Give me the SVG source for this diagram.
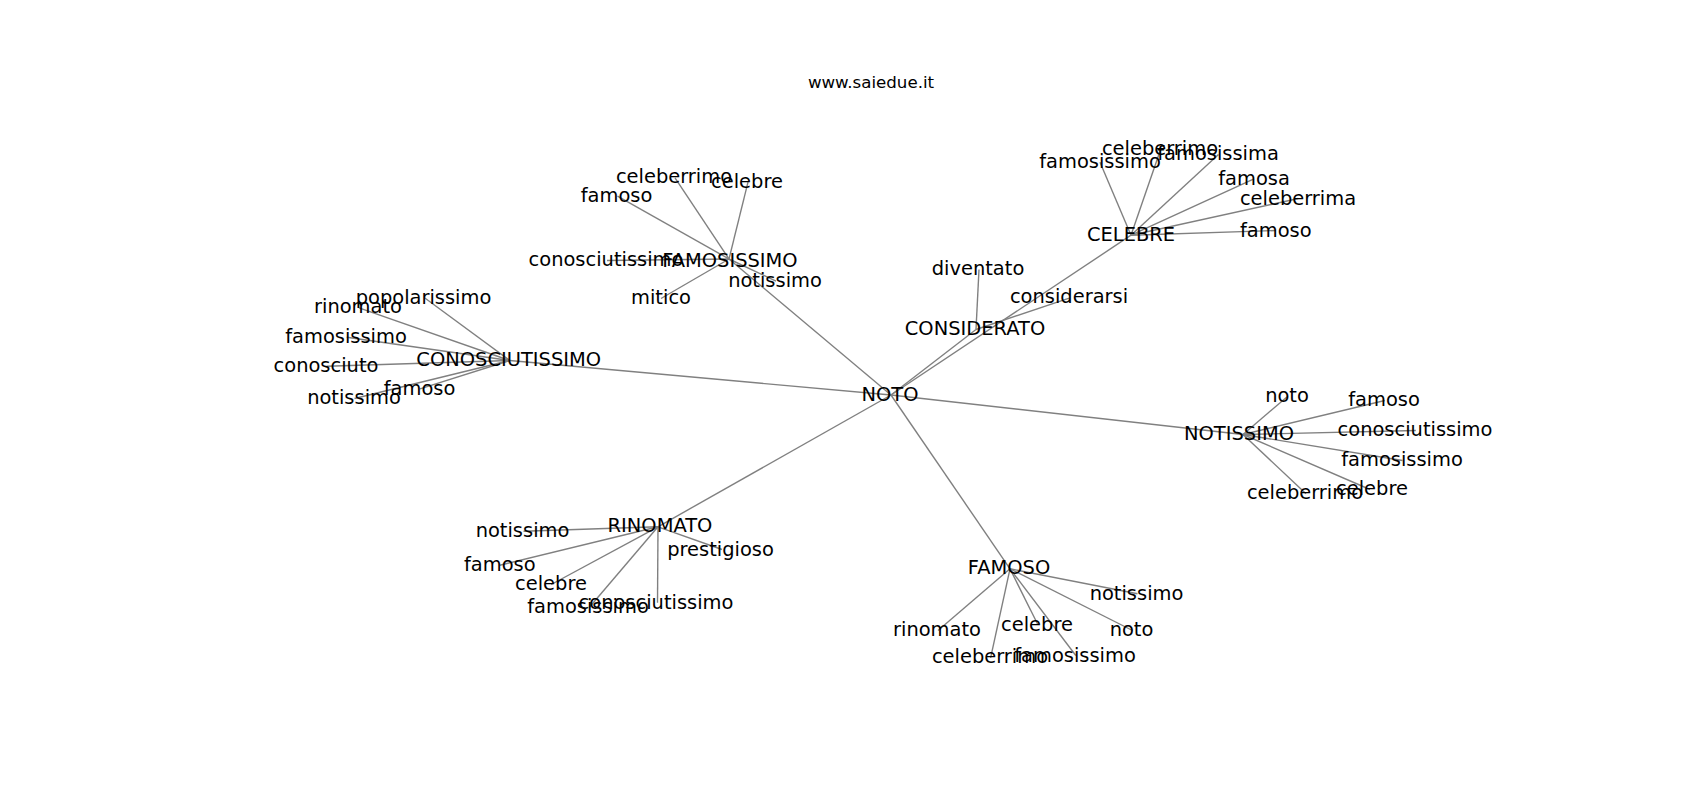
<svg xmlns="http://www.w3.org/2000/svg" width="1700" height="800" viewBox="0 0 1700 800">
<style>
.e{stroke:#808080;stroke-width:1.39;fill:none}
text{font-family:"DejaVu Sans","Liberation Sans",sans-serif;font-size:19.44px;fill:#000;text-anchor:middle}
.t{font-size:16.67px}
</style>
<rect width="1700" height="800" fill="#fff"/>
<text class="t" x="871" y="88">www.saiedue.it</text>
<g id="edges">
<line class="e" x1="891" y1="395" x2="976" y2="329.5"/>
<line class="e" x1="891" y1="395" x2="1131" y2="235.2"/>
<line class="e" x1="891" y1="395" x2="729" y2="259"/>
<line class="e" x1="891" y1="395" x2="509.7" y2="360.5"/>
<line class="e" x1="891" y1="395" x2="1243" y2="434.5"/>
<line class="e" x1="891" y1="395" x2="658" y2="526.8"/>
<line class="e" x1="891" y1="395" x2="1010" y2="568.8"/>
<line class="e" x1="976" y1="329.5" x2="979" y2="269.5"/>
<line class="e" x1="976" y1="329.5" x2="1070" y2="297.8"/>
<line class="e" x1="1131" y1="235.2" x2="1100" y2="162.2"/>
<line class="e" x1="1131" y1="235.2" x2="1160.6" y2="149.5"/>
<line class="e" x1="1131" y1="235.2" x2="1218.5" y2="154.5"/>
<line class="e" x1="1131" y1="235.2" x2="1254" y2="178.8"/>
<line class="e" x1="1131" y1="235.2" x2="1298.3" y2="198.5"/>
<line class="e" x1="1131" y1="235.2" x2="1275.8" y2="230.5"/>
<line class="e" x1="729" y1="259" x2="675" y2="177.8"/>
<line class="e" x1="729" y1="259" x2="748" y2="182.2"/>
<line class="e" x1="729" y1="259" x2="617.5" y2="196.2"/>
<line class="e" x1="729" y1="259" x2="607" y2="260.5"/>
<line class="e" x1="729" y1="259" x2="776" y2="281.2"/>
<line class="e" x1="729" y1="259" x2="661" y2="298.5"/>
<line class="e" x1="509.7" y1="360.5" x2="424.5" y2="297.8"/>
<line class="e" x1="509.7" y1="360.5" x2="359" y2="307.8"/>
<line class="e" x1="509.7" y1="360.5" x2="346.8" y2="337.2"/>
<line class="e" x1="509.7" y1="360.5" x2="326.8" y2="366.2"/>
<line class="e" x1="509.7" y1="360.5" x2="420" y2="388.8"/>
<line class="e" x1="509.7" y1="360.5" x2="354.5" y2="398.5"/>
<line class="e" x1="1243" y1="434.5" x2="1287.8" y2="396.2"/>
<line class="e" x1="1243" y1="434.5" x2="1384.8" y2="400.5"/>
<line class="e" x1="1243" y1="434.5" x2="1415.8" y2="430.5"/>
<line class="e" x1="1243" y1="434.5" x2="1402.5" y2="460.5"/>
<line class="e" x1="1243" y1="434.5" x2="1306" y2="493.8"/>
<line class="e" x1="1243" y1="434.5" x2="1370" y2="489.5"/>
<line class="e" x1="658" y1="526.8" x2="523.5" y2="531.2"/>
<line class="e" x1="658" y1="526.8" x2="722" y2="549.5"/>
<line class="e" x1="658" y1="526.8" x2="499.8" y2="565.2"/>
<line class="e" x1="658" y1="526.8" x2="551.2" y2="584.5"/>
<line class="e" x1="658" y1="526.8" x2="589" y2="607.8"/>
<line class="e" x1="658" y1="526.8" x2="657.5" y2="602.8"/>
<line class="e" x1="1010" y1="568.8" x2="1137.5" y2="593.8"/>
<line class="e" x1="1010" y1="568.8" x2="938" y2="630.5"/>
<line class="e" x1="1010" y1="568.8" x2="1037.8" y2="624.5"/>
<line class="e" x1="1010" y1="568.8" x2="1132.5" y2="630.5"/>
<line class="e" x1="1010" y1="568.8" x2="990.6" y2="657.8"/>
<line class="e" x1="1010" y1="568.8" x2="1075.8" y2="655.5"/>
</g>
<g id="n-noto"><text x="890" y="400.5">NOTO</text></g>
<g id="n-considerato"><text x="975" y="335">CONSIDERATO</text></g>
<g id="n-diventato"><text x="978" y="275">diventato</text></g>
<g id="n-considerarsi"><text x="1069" y="303.3">considerarsi</text></g>
<g id="n-celebre"><text x="1131" y="240.7">CELEBRE</text></g>
<g id="n-celebre-famosissimo"><text x="1100" y="167.7">famosissimo</text></g>
<g id="n-celebre-celeberrimo"><text x="1160" y="155">celeberrimo</text></g>
<g id="n-celebre-famosissima"><text x="1218" y="160">famosissima</text></g>
<g id="n-celebre-famosa"><text x="1254" y="184.8">famosa</text></g>
<g id="n-celebre-celeberrima"><text x="1298" y="204.5">celeberrima</text></g>
<g id="n-celebre-famoso"><text x="1275.8" y="236.8">famoso</text></g>
<g id="n-famosissimo"><text x="730" y="266.5">FAMOSISSIMO</text></g>
<g id="n-famosissimo-celeberrimo"><text x="674" y="183.3">celeberrimo</text></g>
<g id="n-famosissimo-celebre"><text x="747" y="187.7">celebre</text></g>
<g id="n-famosissimo-famoso"><text x="616.5" y="201.7">famoso</text></g>
<g id="n-famosissimo-conosciutissimo"><text x="606" y="266">conosciutissimo</text></g>
<g id="n-famosissimo-notissimo"><text x="775" y="286.7">notissimo</text></g>
<g id="n-famosissimo-mitico"><text x="661" y="304">mitico</text></g>
<g id="n-conosciutissimo"><text x="508.7" y="366">CONOSCIUTISSIMO</text></g>
<g id="n-conosciutissimo-popolarissimo"><text x="423.5" y="304">popolarissimo</text></g>
<g id="n-conosciutissimo-rinomato"><text x="358" y="313.3">rinomato</text></g>
<g id="n-conosciutissimo-famosissimo"><text x="346" y="342.7">famosissimo</text></g>
<g id="n-conosciutissimo-conosciuto"><text x="326" y="371.7">conosciuto</text></g>
<g id="n-conosciutissimo-famoso"><text x="419.5" y="394.8">famoso</text></g>
<g id="n-conosciutissimo-notissimo"><text x="354" y="404">notissimo</text></g>
<g id="n-notissimo"><text x="1239" y="440">NOTISSIMO</text></g>
<g id="n-notissimo-noto"><text x="1287" y="401.7">noto</text></g>
<g id="n-notissimo-famoso"><text x="1384" y="406">famoso</text></g>
<g id="n-notissimo-conosciutissimo"><text x="1415" y="436">conosciutissimo</text></g>
<g id="n-notissimo-famosissimo"><text x="1402" y="466">famosissimo</text></g>
<g id="n-notissimo-celeberrimo"><text x="1305" y="499.3">celeberrimo</text></g>
<g id="n-notissimo-celebre"><text x="1372" y="495">celebre</text></g>
<g id="n-rinomato"><text x="660" y="532.3">RINOMATO</text></g>
<g id="n-rinomato-notissimo"><text x="522.5" y="536.7">notissimo</text></g>
<g id="n-rinomato-prestigioso"><text x="720.5" y="555.5">prestigioso</text></g>
<g id="n-rinomato-famoso"><text x="499.8" y="570.7">famoso</text></g>
<g id="n-rinomato-celebre"><text x="551" y="590">celebre</text></g>
<g id="n-rinomato-famosissimo"><text x="588" y="613.3">famosissimo</text></g>
<g id="n-rinomato-conosciutissimo"><text x="656" y="608.8">conosciutissimo</text></g>
<g id="n-famoso"><text x="1009" y="574.3">FAMOSO</text></g>
<g id="n-famoso-notissimo"><text x="1136.5" y="599.8">notissimo</text></g>
<g id="n-famoso-rinomato"><text x="937" y="636">rinomato</text></g>
<g id="n-famoso-celebre"><text x="1037" y="630.5">celebre</text></g>
<g id="n-famoso-noto"><text x="1131.5" y="636">noto</text></g>
<g id="n-famoso-celeberrimo"><text x="990" y="663.3">celeberrimo</text></g>
<g id="n-famoso-famosissimo"><text x="1075" y="661.5">famosissimo</text></g>
</svg>
